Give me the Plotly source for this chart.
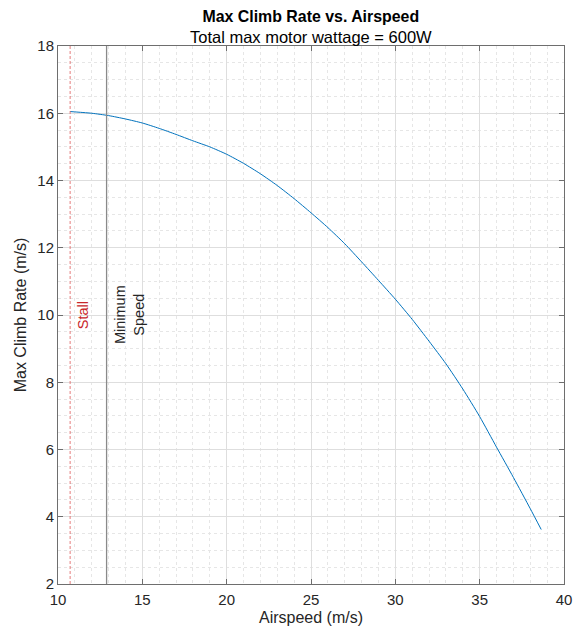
import plotly.graph_objects as go

airspeed = [10.72, 11, 12, 13, 14, 15, 16, 17, 18, 19, 20, 21, 22, 23, 24, 25, 26, 27,
            28, 29, 30, 31, 32, 33, 34, 35, 36, 37, 38, 38.65]
climb_rate = [16.05, 16.04, 16.00, 15.93, 15.83, 15.71, 15.55, 15.37, 15.18, 15.00, 14.78,
              14.51, 14.20, 13.85, 13.46, 13.04, 12.60, 12.12, 11.58, 11.03, 10.47, 9.87,
              9.22, 8.55, 7.80, 6.98, 6.07, 5.17, 4.24, 3.62]

stall_speed = 10.72
min_speed = 12.88

x_ticks = [10, 15, 20, 25, 30, 35, 40]
y_ticks = [2, 4, 6, 8, 10, 12, 14, 16, 18]

FONT = "Liberation Sans, Arial, sans-serif"
AXC = "#262626"

fig = go.Figure()
fig.add_trace(go.Scatter(x=airspeed, y=climb_rate, mode="lines",
                         line=dict(color="#0072BD", width=1, shape="spline", smoothing=0.6),
                         showlegend=False))

fig.add_shape(type="line", xref="x", yref="paper", x0=stall_speed, x1=stall_speed, y0=0, y1=1,
              line=dict(color="#e05a5a", width=0.8, dash="3px,2px"))
fig.add_shape(type="line", xref="x", yref="paper", x0=min_speed, x1=min_speed, y0=0, y1=1,
              line=dict(color="#8a8a8a", width=1.3))

fig.add_annotation(x=stall_speed, y=10, xref="x", yref="y", text="Stall", textangle=-90,
                   showarrow=False, xanchor="left", yanchor="middle", xshift=3,
                   font=dict(family=FONT, size=14.5, color="#c8262b"))
fig.add_annotation(x=min_speed, y=10, xref="x", yref="y", text="Minimum<br>Speed", textangle=-90,
                   showarrow=False, xanchor="left", yanchor="middle", xshift=3,
                   font=dict(family=FONT, size=14.5, color="#262626"))

fig.add_annotation(x=0.5, y=1.0, xref="paper", yref="paper",
                   text=("<b><span style='font-size:15.9px'>Max Climb Rate vs. Airspeed</span></b>"
                         "<br>Total max motor wattage = 600W"),
                   showarrow=False, xanchor="center", yanchor="bottom", yshift=-1, borderpad=0,
                   font=dict(family=FONT, size=16.5, color="#000000"))

fig.update_layout(
    width=576, height=627,
    margin=dict(l=48, r=14, t=38, b=51),
    paper_bgcolor="white", plot_bgcolor="white",
    font=dict(family=FONT, size=15, color=AXC),
)
fig.update_xaxes(
    range=[10, 40], tickvals=x_ticks, ticktext=[str(v) for v in x_ticks],
    showline=True, linecolor="#6e6e6e", linewidth=1, mirror="ticks",
    ticks="inside", ticklen=5, tickcolor="#6e6e6e", ticklabelstandoff=2,
    showgrid=True, gridcolor="#dedede", gridwidth=1, zeroline=False,
    minor=dict(dtick=1, showgrid=True, gridcolor="#e6e6e6", griddash="dot", ticks=""),
    title=dict(text="Airspeed (m/s)", font=dict(family=FONT, size=16, color=AXC), standoff=4),
    tickfont=dict(family=FONT, size=15, color=AXC),
)
fig.update_yaxes(
    range=[2, 18], tickvals=y_ticks, ticktext=[str(v) for v in y_ticks],
    showline=True, linecolor="#6e6e6e", linewidth=1, mirror="ticks",
    ticks="inside", ticklen=5, tickcolor="#6e6e6e",
    showgrid=True, gridcolor="#dedede", gridwidth=1, zeroline=False,
    minor=dict(dtick=0.5, showgrid=True, gridcolor="#e6e6e6", griddash="dot", ticks=""),
    title=dict(text="Max Climb Rate (m/s)", font=dict(family=FONT, size=16, color=AXC), standoff=6),
    tickfont=dict(family=FONT, size=15, color=AXC),
)

fig.write_html("out.html")
